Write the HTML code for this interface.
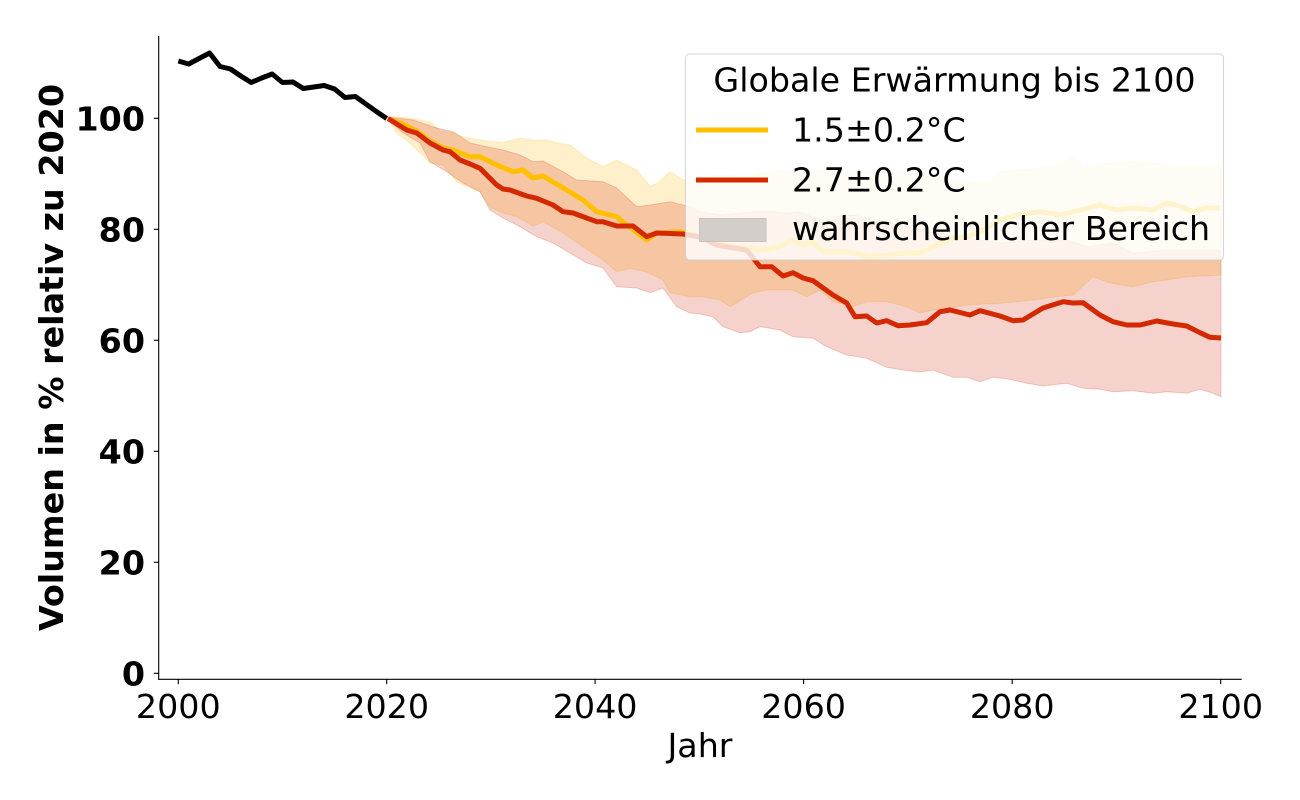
<!DOCTYPE html>
<html><head><meta charset="utf-8"><style>
html,body{margin:0;padding:0;background:#fff;}
svg{display:block;}
text{font-family:"DejaVu Sans","Liberation Sans",sans-serif;fill:#000;}
</style></head><body>
<svg width="1300" height="800" viewBox="0 0 1300 800" xmlns="http://www.w3.org/2000/svg">
<rect width="1300" height="800" fill="#fff"/>
<!-- yellow band -->
<polygon fill="rgba(255,180,0,0.2)" stroke="rgba(255,180,0,0.2)" stroke-width="1" points="388,117 403,117 430,121.7 440,130.7 453,133 463,136.7 480,140 503,142.7 520,138 536.7,140.7 546.7,140 556.7,143 570,145 586.7,158 603,166.7 616.7,160 636.7,170 650,186 656.7,184 670,171.7 683,180 700,176.7 720,175 746.7,176.7 763,171.7 783,170 800,173 820,170 853,171.7 886.7,170 920,172 950,180 990,183 1000,171.7 1040,168 1060,165 1073,156 1083,166.7 1110,163 1133,161.7 1153,163 1183,166.7 1221,165 1221,275 1186.7,276.7 1166.7,280 1153,281.7 1133,286.7 1110,283 1093,276.7 1073,295 1056.7,296.7 1033,300 1000,303.3 966.7,305 933,310 920,313 906.7,306.7 886.7,301.7 866.7,301.7 853,306.7 833,301.7 820,290 806.7,296.7 793,290 766.7,290 753,293 730,306.7 720,300 703,296.7 690,296.7 670,292.7 663,280 646.7,272 630,268.3 616.7,271.7 603,260 583,246.7 563,233 543,221.7 533,226 516.7,216.7 503,213 490,206.7 480,191.7 470,188 456.7,181.7 443,165 430,163 410,143 396.7,133 388,120"/>
<!-- red band -->
<polygon fill="rgba(210,30,0,0.2)" stroke="rgba(210,30,0,0.2)" stroke-width="1" points="388,117 413,120 436.7,128 453,131.7 470,143 486.7,146.7 503,150 520,155 533,161.7 543,161 563,171.7 576.7,180 603,181.7 616.7,188 636.7,206.7 650,205 670,201.7 690,206.7 700,211.7 720,215 753,211.7 773,211.7 786.7,213 800,211.7 820,220 833,216.7 853,215 886.7,222 920,230 966.7,238 1000,243 1033,240 1066.7,240 1086.7,246.7 1113,243 1133,253 1166.7,250 1221,250 1221,396.7 1213,393.3 1200,389.3 1186.7,393.3 1166.7,391.7 1153,393.3 1133,390.7 1113,391.7 1100,389.3 1083,388.3 1066.7,383.3 1043,386 1026.7,383.3 1010,379.3 993,377.3 980,381.7 966.7,377.3 953,377.3 933,370 920,372 903,370 886.7,367.3 866.7,358.3 846.7,355 826.7,346.7 813,338.3 793,336.7 780,330 760,326.7 750,331.7 740,332.7 723,326.7 713,316.7 700,314 690,313 676.7,306.7 663,288 650,292.7 636.7,288 616.7,286.7 603,268 586.7,263 570,253 553,243 536.7,236.7 520,226.7 503,218 490,210 480,191.7 463,183 446.7,171.7 430,161.7 420,143 403,133 388,120"/>
<!-- black historic line -->
<polyline fill="none" stroke="#000" stroke-width="5" stroke-linejoin="round" points="178.3,61 188.7,64 199.1,58.5 209.6,53 220,66.5 230.4,69 240.8,76 251.2,82.5 261.7,78 272.1,74 282.5,82.5 292.9,82 303.3,88.5 313.8,87 324.2,85.5 334.6,89 345,97.5 355.4,96.5 365.9,104 376.3,111.5 386.7,118.5"/>
<!-- yellow line -->
<polyline fill="none" stroke="#ffc000" stroke-width="5" stroke-linejoin="round" points="388,118.5 403,124 416.7,131 430,141 443,148 453,150 470,156.7 480,156.7 496.7,165 513.3,171.7 523,170 533,178 543,176 566.7,190 583,200 596.7,211.7 616.7,216.7 626.7,225 646.7,240 656.7,233 680,231.7 700,236.7 720,243 730,246.7 740,248 753,248 763,250 780,246.7 793,240 803,245 813,241.7 823,251.7 846.7,251.7 870,256.7 886.7,255 906.7,253 920,253 933,246.7 953,238 967,236.7 983,230 1000,220 1016.7,215 1040,211.7 1060,215 1080,210 1100,205 1116.7,210 1133,208 1153,210 1166.7,203 1176.7,205 1193,211.7 1206.7,208 1221,208"/>
<!-- red line -->
<polyline fill="none" stroke="#d42800" stroke-width="5" stroke-linejoin="round" points="388,118.5 406.7,130 416.7,133 430,143 443,150 450,151.7 460,160 470,164 480,168.3 496.7,185 503,189 510,190 526.7,196 536.7,198.3 553,205 563,211.7 573,213 596.7,221.7 603,221.7 616.7,226 633,226 646.7,236.7 656.7,233 683,234 700,237 716.7,245 733,248 746.7,250 760,266.7 771.7,266.7 783,276 793,272.7 803,278 813,280.7 833,295 846.7,303 855,316.7 866.7,316 876.7,323 886.7,320.7 898,325.7 910,325 926.7,322.7 940,311.7 950,310 970,315 980,310.7 1000,316 1013,320.7 1023,320 1043,308 1063,301.7 1073,303 1083,302.7 1100,315 1113,321.7 1126.7,325 1140,325 1156.7,321 1173,324 1186.7,326 1200,332.7 1210,337.3 1221,338"/>
<!-- spines -->
<line x1="158.7" y1="36" x2="158.7" y2="679.8" stroke="#000" stroke-width="1.1"/>
<line x1="158.2" y1="679.3" x2="1241.7" y2="679.3" stroke="#000" stroke-width="1.1"/>
<!-- ticks -->
<g stroke="#000" stroke-width="1.1">
<line x1="153.8" y1="673.3" x2="158.7" y2="673.3"/>
<line x1="153.8" y1="562.3" x2="158.7" y2="562.3"/>
<line x1="153.8" y1="451.3" x2="158.7" y2="451.3"/>
<line x1="153.8" y1="340.3" x2="158.7" y2="340.3"/>
<line x1="153.8" y1="229.3" x2="158.7" y2="229.3"/>
<line x1="153.8" y1="118.3" x2="158.7" y2="118.3"/>
<line x1="178.3" y1="679.3" x2="178.3" y2="684.2"/>
<line x1="386.7" y1="679.3" x2="386.7" y2="684.2"/>
<line x1="595.1" y1="679.3" x2="595.1" y2="684.2"/>
<line x1="803.6" y1="679.3" x2="803.6" y2="684.2"/>
<line x1="1012.2" y1="679.3" x2="1012.2" y2="684.2"/>
<line x1="1220.7" y1="679.3" x2="1220.7" y2="684.2"/>
</g>
<g font-size="33.3" font-weight="bold" text-anchor="end">
<text x="145" y="685.4">0</text>
<text x="145" y="574.4">20</text>
<text x="145" y="463.4">40</text>
<text x="145" y="352.4">60</text>
<text x="145" y="241.4">80</text>
<text x="145" y="130.4">100</text>
</g>
<g font-size="33.3" text-anchor="middle">
<text x="178.3" y="718">2000</text>
<text x="386.7" y="718">2020</text>
<text x="595.1" y="718">2040</text>
<text x="803.6" y="718">2060</text>
<text x="1012.2" y="718">2080</text>
<text x="1220.7" y="718">2100</text>
<text x="700" y="757">Jahr</text>
</g>
<text transform="translate(63,357.5) rotate(-90)" font-size="33.3" font-weight="bold" text-anchor="middle">Volumen in % relativ zu 2020</text>
<!-- legend -->
<rect x="685.5" y="54" width="538" height="206" rx="4" ry="4" fill="rgba(255,255,255,0.8)" stroke="rgba(204,204,204,0.8)" stroke-width="1.1"/>
<text x="954.5" y="91.7" font-size="33.3" text-anchor="middle">Globale Erwärmung bis 2100</text>
<line x1="696" y1="130" x2="768" y2="130" stroke="#ffc000" stroke-width="5"/>
<line x1="696" y1="180" x2="768" y2="180" stroke="#d42800" stroke-width="5"/>
<rect x="699.5" y="218.5" width="66.5" height="23" fill="#d3cec9" stroke="#c9c4bf" stroke-width="1"/>
<g font-size="33.3">
<text x="792" y="141.7">1.5±0.2°C</text>
<text x="792" y="191.7">2.7±0.2°C</text>
<text x="792" y="240">wahrscheinlicher Bereich</text>
</g>
</svg>
</body></html>
